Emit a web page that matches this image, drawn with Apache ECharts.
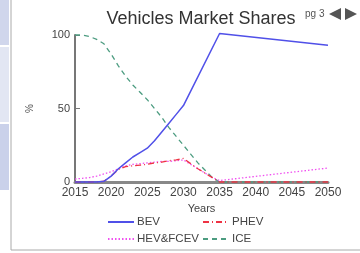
<!DOCTYPE html>
<html><head><meta charset="utf-8">
<script src="https://cdn.jsdelivr.net/npm/echarts@6/dist/echarts.min.js"></script>
<style>html,body{margin:0;padding:0;background:#fff}#c{width:360px;height:253px}</style>
</head><body><div id="c"></div>
<script>
const xTicks = [2015, 2020, 2025, 2030, 2035, 2040, 2045, 2050];
const yTicks = [0, 50, 100];
const bevYears = [2015, 2016, 2017, 2018, 2019, 2020, 2021, 2022, 2023, 2024, 2025, 2026, 2027, 2028, 2029, 2030, 2035, 2050];
const bevValues = [0, 0, 0, 0, 0.5, 4, 9, 13, 17, 20, 23, 28, 34, 40, 46, 52, 101, 93];
const phevYears = [2015, 2016, 2017, 2018, 2019, 2020, 2021, 2022, 2023, 2024, 2025, 2026, 2027, 2028, 2029, 2030, 2031, 2032, 2033, 2034, 2035, 2050];
const phevValues = [0, 0, 0, 0, 0.5, 4, 8.5, 10.5, 11, 11.5, 12, 13, 13.5, 14.5, 15, 16, 12.5, 9, 6, 3, 0, 0];
const hevYears = [2015, 2016, 2017, 2018, 2019, 2020, 2021, 2022, 2023, 2024, 2025, 2026, 2027, 2028, 2029, 2030, 2031, 2032, 2033, 2034, 2035, 2050];
const hevValues = [2, 2.5, 3, 4, 5.5, 7, 9, 11, 12, 12.5, 13, 13.5, 14, 14, 14.5, 15, 12, 9, 6, 3, 1, 9.5];
const iceYears = [2015, 2016, 2017, 2018, 2019, 2020, 2021, 2022, 2023, 2024, 2025, 2026, 2027, 2028, 2029, 2030, 2031, 2032, 2033, 2034, 2035, 2050];
const iceValues = [100, 100, 99, 97, 94, 87, 79, 72, 66, 61, 56, 50, 44, 37, 31, 25, 19, 13, 8, 3, 0, 0];

const pairs = (xs, ys) => xs.map((x, i) => [x, ys[i]]);
const chart = echarts.init(document.getElementById('c'), null, {renderer: 'canvas'});
const font = '"Liberation Sans", Arial, sans-serif';
const legendBase = {orient: 'vertical', top: 211, itemWidth: 26, itemHeight: 8, itemGap: 5,
  itemStyle: {opacity: 0, borderWidth: 0},
  textStyle: {fontSize: 11.5, color: '#444', padding: [0, 0, 0, -2]}};
chart.setOption({
  animation: false,
  textStyle: {fontFamily: font},
  title: {text: 'Vehicles Market Shares', left: 196, textAlign: 'center', top: 5,
    textStyle: {fontSize: 18, fontWeight: 'normal', color: '#333', fontFamily: font}},
  grid: {left: 75, right: 32, top: 35, bottom: 71, containLabel: false},
  xAxis: {type: 'value', min: 2015, max: 2050, interval: 5,
    name: 'Years', nameLocation: 'middle', nameGap: 17,
    nameTextStyle: {fontSize: 11, color: '#444'},
    axisLine: {show: true, onZero: false, lineStyle: {color: '#888', width: 3}},
    axisTick: {show: false}, splitLine: {show: false},
    axisLabel: {fontSize: 12, color: '#444', margin: 5, showMinLabel: true, showMaxLabel: true,
      formatter: v => xTicks.includes(v) ? String(v) : ''}},
  yAxis: {type: 'value', min: 0, max: 100, interval: 50,
    name: '%', nameLocation: 'middle', nameGap: 40, nameRotate: 90,
    nameTextStyle: {fontSize: 10, color: '#555'},
    axisLine: {show: true, lineStyle: {color: '#777', width: 2}},
    axisTick: {show: true, inside: true, length: 5, lineStyle: {color: '#777', width: 1}},
    splitLine: {show: false},
    axisLabel: {fontSize: 11, color: '#444', margin: 5,
      formatter: v => yTicks.includes(v) ? String(v) : ''}},
  legend: [
    Object.assign({data: ['BEV', 'HEV&FCEV'], left: 102}, legendBase),
    Object.assign({data: ['PHEV', 'ICE'], left: 197}, legendBase)
  ],
  series: [
    {name: 'BEV', type: 'line', data: pairs(bevYears, bevValues), symbol: 'none', clip: false, z: 4,
      lineStyle: {color: '#5050e8', width: 1.5}, itemStyle: {color: '#5050e8'}},
    {name: 'PHEV', type: 'line', data: pairs(phevYears, phevValues), symbol: 'none', clip: false, z: 3,
      lineStyle: {color: '#ee3344', width: 1.3, type: [6, 3, 1, 3]}, itemStyle: {color: '#ee3344'}},
    {name: 'HEV&FCEV', type: 'line', data: pairs(hevYears, hevValues), symbol: 'none', clip: false, z: 2,
      lineStyle: {color: '#f050f0', width: 1.3, type: [1.5, 2]}, itemStyle: {color: '#f050f0'}},
    {name: 'ICE', type: 'line', data: pairs(iceYears, iceValues), symbol: 'none', clip: false, z: 1,
      lineStyle: {color: '#4c9c80', width: 1.3, type: [5, 4]}, itemStyle: {color: '#4c9c80'}}
  ],
  graphic: [
    {type: 'rect', shape: {x: 0, y: 0, width: 9, height: 45}, style: {fill: '#d0d6ec'}},
    {type: 'rect', shape: {x: 0, y: 47, width: 9, height: 75}, style: {fill: '#e2e6f3'}},
    {type: 'rect', shape: {x: 0, y: 124, width: 9, height: 66}, style: {fill: '#cad1ea'}},
    {type: 'line', shape: {x1: 11, y1: 0, x2: 11, y2: 250}, style: {stroke: '#aaa', lineWidth: 1}},
    {type: 'line', shape: {x1: 11, y1: 250, x2: 360, y2: 250}, style: {stroke: '#aaa', lineWidth: 1}},
    {type: 'text', left: 305, top: 9, style: {text: 'pg 3', fontSize: 10, fill: '#555', fontFamily: font}},
    {type: 'polygon', shape: {points: [[329, 14], [341, 8], [341, 20]]}, style: {fill: '#555'}},
    {type: 'polygon', shape: {points: [[345, 8], [357, 14], [345, 20]]}, style: {fill: '#555'}}
  ]
});
</script></body></html>
